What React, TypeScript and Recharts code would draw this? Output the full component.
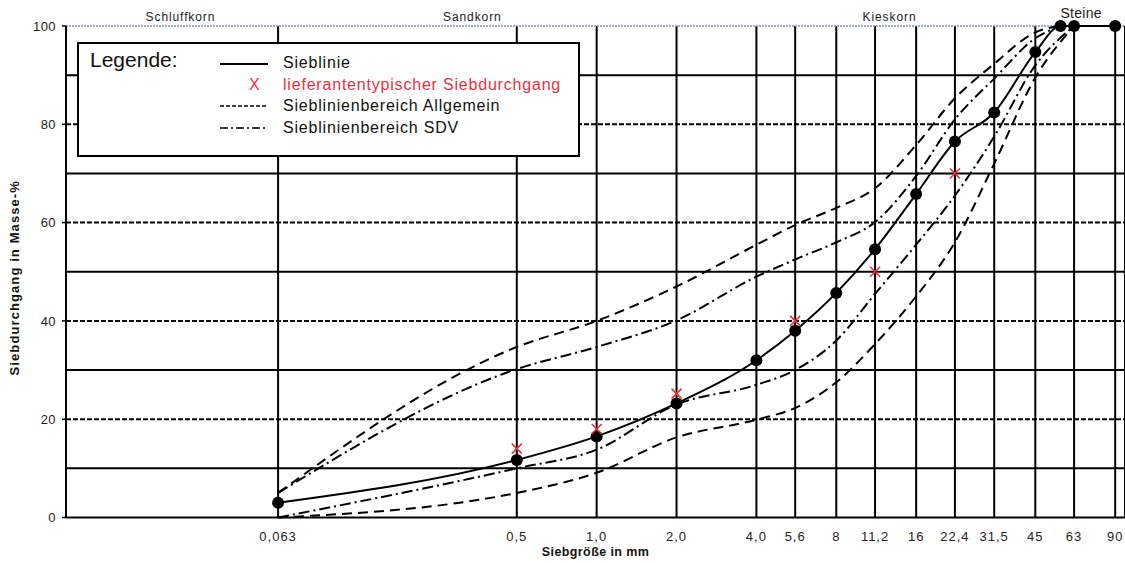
import React from 'react';
import { ComposedChart, Line, XAxis, YAxis, CartesianGrid, ReferenceLine, Legend } from 'recharts';

const FONT = '"Liberation Sans", Arial, sans-serif';

// Axis ticks
const sieveTicks = [0.063, 0.5, 1, 2, 4, 5.6, 8, 11.2, 16, 22.4, 31.5, 45, 63, 90];
const sieveTickLabels = ['0,063', '0,5', '1,0', '2,0', '4,0', '5,6', '8', '11,2', '16', '22,4', '31,5', '45', '63', '90'];
const xDomain = [0.01, 98];
const yTicks = [0, 20, 40, 60, 80, 100];
const solidGridY = [10, 30, 50, 70, 90];
const dashedGridY = [20, 40, 60, 80];
const topGridY = 100;

// Zone labels above the plot
const zoneNames = ['Schluffkorn', 'Sandkorn', 'Kieskorn', 'Steine'];
const zoneLabelAt = [0.027, 0.34, 12.7, 67];

// Sieblinie (measured grading curve)
const sieblinieSizes = [0.063, 0.5, 1, 2, 4, 5.6, 8, 11.2, 16, 22.4, 31.5, 45, 56, 63, 90];
const sieblinieValues = [3, 11.7, 16.5, 23.2, 32, 38, 45.7, 54.6, 65.8, 76.5, 82.4, 94.7, 100, 100, 100];

// lieferantentypischer Siebdurchgang
const supplierSizes = [0.5, 1, 2, 5.6, 11.2, 22.4];
const supplierValues = [14, 18, 25.2, 40, 50, 70];

// Sieblinienbereich Allgemein
const allgUpperSizes = [0.063, 0.5, 1, 2, 4, 5.6, 8, 11.2, 16, 22.4, 31.5, 45, 56];
const allgUpperValues = [5, 34.7, 40, 47, 55.5, 59.5, 63, 67, 75.8, 85.3, 92.3, 98.7, 100];
const allgLowerSizes = [0.063, 0.5, 1, 2, 4, 5.6, 8, 11.2, 16, 22.4, 31.5, 45, 63];
const allgLowerValues = [0, 5, 9.1, 16.3, 19.9, 22.3, 27.5, 35.3, 45, 56, 72, 89.5, 100];

// Sieblinienbereich SDV
const sdvUpperSizes = [0.063, 0.5, 1, 2, 4, 5.6, 8, 11.2, 16, 22.4, 31.5, 45, 56];
const sdvUpperValues = [5, 30.2, 34.7, 40.1, 49, 52.5, 56, 60.1, 69.5, 81, 89.3, 97.5, 100];
const sdvLowerSizes = [0.063, 0.5, 1, 2, 4, 5.6, 8, 11.2, 16, 22.4, 31.5, 45, 63];
const sdvLowerValues = [0, 10, 13.8, 23, 27, 30, 36, 45.5, 55.5, 65.5, 77.5, 92, 100];

const toPts = (xs: number[], ys: number[]) => xs.map((x, i) => ({ x, y: ys[i] }));

const sieblinie = toPts(sieblinieSizes, sieblinieValues);
const supplier = toPts(supplierSizes, supplierValues);
const allgUpper = toPts(allgUpperSizes, allgUpperValues);
const allgLower = toPts(allgLowerSizes, allgLowerValues);
const sdvUpper = toPts(sdvUpperSizes, sdvUpperValues);
const sdvLower = toPts(sdvLowerSizes, sdvLowerValues);

const RED = '#e6313d';
const DASH = '10 6';
const DASHDOT = '11 4 2 4';

const BlackDot = (props: any) => {
  const { cx, cy } = props;
  if (cx == null || cy == null) return <g />;
  return <circle cx={cx} cy={cy} r={6} fill="#000" />;
};

const RedX = (props: any) => {
  const { cx, cy } = props;
  if (cx == null || cy == null) return <g />;
  const s = 5;
  return (
    <g stroke={RED} strokeWidth={1.6}>
      <line x1={cx - s} y1={cy - s} x2={cx + s} y2={cy + s} />
      <line x1={cx - s} y1={cy + s} x2={cx + s} y2={cy - s} />
    </g>
  );
};

const ZoneTick = (props: any) => {
  const { x, payload } = props;
  const i = zoneLabelAt.indexOf(payload.value);
  const name = zoneNames[i] ?? '';
  const big = name === 'Steine';
  return (
    <text
      x={x}
      y={big ? 18 : 21}
      textAnchor="middle"
      fontFamily={FONT}
      fontSize={big ? 14 : 12}
      letterSpacing={big ? 0.3 : 0.9}
      fill="#222"
    >
      {name}
    </text>
  );
};

const LegendBox = () => {
  const rowText: React.CSSProperties = {
    position: 'absolute',
    left: 204,
    fontSize: 16,
    letterSpacing: 0.8,
    lineHeight: '18px',
    color: '#111',
    whiteSpace: 'nowrap',
  };
  const sample = (top: number, dash?: string) => (
    <svg style={{ position: 'absolute', left: 141, top: top - 3 }} width={50} height={6}>
      <line x1={0} y1={3} x2={48} y2={3} stroke="#000" strokeWidth={dash ? 1.5 : 2} strokeDasharray={dash} />
    </svg>
  );
  return (
    <div
      style={{
        width: 503,
        height: 115,
        border: '2px solid #000',
        boxSizing: 'border-box',
        background: '#fff',
        position: 'relative',
        fontFamily: FONT,
      }}
    >
      <div style={{ position: 'absolute', left: 11, top: 4, fontSize: 21, color: '#111', whiteSpace: 'nowrap' }}>
        Legende:
      </div>
      {sample(20)}
      <div style={{ ...rowText, top: 10 }}>Sieblinie</div>
      <div style={{ ...rowText, left: 170, top: 32, color: RED }}>X</div>
      <div style={{ ...rowText, top: 32, color: RED }}>lieferantentypischer Siebdurchgang</div>
      {sample(62, '4 2')}
      <div style={{ ...rowText, top: 53 }}>Sieblinienbereich Allgemein</div>
      {sample(84, '8 3 2 3')}
      <div style={{ ...rowText, top: 75 }}>Sieblinienbereich SDV</div>
    </div>
  );
};

export default function App() {
  return (
    <div style={{ position: 'absolute', left: 0, top: 0, width: 1125, height: 563, background: '#fff' }}>
      <ComposedChart
        width={1125}
        height={563}
        margin={{ top: 0, right: 0, bottom: 0, left: 0 }}
        style={{ fontFamily: FONT }}
      >
        <CartesianGrid horizontal={false} vertical stroke="#000" strokeWidth={2} />
        <XAxis
          xAxisId={0}
          dataKey="x"
          type="number"
          scale="log"
          domain={xDomain}
          allowDataOverflow
          ticks={sieveTicks}
          interval={0}
          tickFormatter={(v: number) => sieveTickLabels[sieveTicks.indexOf(v)] ?? ''}
          tickLine={false}
          tickMargin={8}
          axisLine={{ stroke: '#000', strokeWidth: 2 }}
          height={45.5}
          tick={{ fontSize: 13, fill: '#222', letterSpacing: 1 }}
          label={{
            value: 'Siebgröße in mm',
            position: 'insideBottom',
            offset: 7,
            style: { fontSize: 12.5, fontWeight: 'bold', fill: '#111', letterSpacing: 0.4 },
          }}
        />
        <XAxis
          xAxisId="top"
          orientation="top"
          dataKey="x"
          type="number"
          scale="log"
          domain={xDomain}
          allowDataOverflow
          ticks={zoneLabelAt}
          interval={0}
          tickLine={false}
          axisLine={false}
          height={26}
          tick={<ZoneTick />}
        />
        <YAxis
          type="number"
          domain={[0, 100]}
          ticks={yTicks}
          interval={0}
          width={66}
          tickSize={4}
          tickMargin={6}
          tickLine={{ stroke: '#000', strokeWidth: 1.5 }}
          axisLine={{ stroke: '#000', strokeWidth: 2 }}
          tick={{ fontSize: 13, fill: '#222', letterSpacing: 0.4 }}
          label={{
            value: 'Siebdurchgang in Masse-%',
            angle: -90,
            position: 'insideLeft',
            offset: 14,
            dy: 6,
            style: { textAnchor: 'middle', fontSize: 13, fontWeight: 'bold', fill: '#111', letterSpacing: 1.1 },
          }}
        />
        {solidGridY.map((v) => (
          <ReferenceLine key={'s' + v} y={v} stroke="#000" strokeWidth={2} />
        ))}
        {dashedGridY.map((v) => (
          <ReferenceLine key={'d' + v} y={v} stroke="#000" strokeWidth={2} strokeDasharray="5 2" />
        ))}
        <ReferenceLine y={topGridY} stroke="#7f8fbf" strokeWidth={1.5} strokeDasharray="2 1" />

        <Line data={allgUpper} dataKey="y" type="monotone" stroke="#000" strokeWidth={2} strokeDasharray={DASH} dot={false} activeDot={false} isAnimationActive={false} />
        <Line data={allgLower} dataKey="y" type="monotone" stroke="#000" strokeWidth={2} strokeDasharray={DASH} dot={false} activeDot={false} isAnimationActive={false} />
        <Line data={sdvUpper} dataKey="y" type="monotone" stroke="#000" strokeWidth={2} strokeDasharray={DASHDOT} dot={false} activeDot={false} isAnimationActive={false} />
        <Line data={sdvLower} dataKey="y" type="monotone" stroke="#000" strokeWidth={2} strokeDasharray={DASHDOT} dot={false} activeDot={false} isAnimationActive={false} />
        <Line data={sieblinie} dataKey="y" type="monotone" stroke="#000" strokeWidth={2} dot={<BlackDot />} activeDot={false} isAnimationActive={false} />
        <Line data={supplier} dataKey="y" stroke="none" strokeWidth={0} dot={<RedX />} activeDot={false} isAnimationActive={false} />

        <Legend
          layout="horizontal"
          verticalAlign="middle"
          align="center"
          content={() => <LegendBox />}
          wrapperStyle={{ position: 'absolute', left: 77, top: 42, width: 503, height: 115 }}
        />
      </ComposedChart>
    </div>
  );
}
